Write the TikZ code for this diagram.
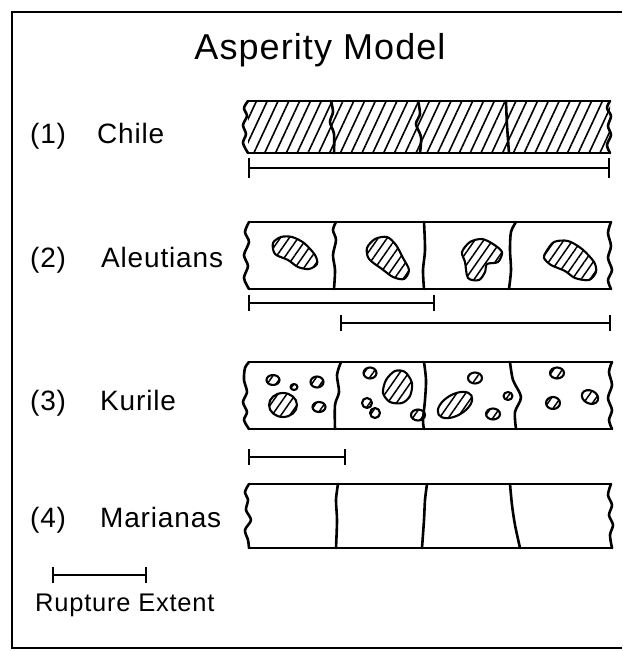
\documentclass[tikz,border=0pt]{standalone}
\usepackage{fontspec}
\setmainfont[LetterSpace=3]{Liberation Sans}
\usetikzlibrary{patterns.meta}
\begin{document}
\begin{tikzpicture}[x=1pt,y=-1pt,
  frame/.style={line width=2pt},
  outline/.style={line width=2.6pt, line join=round, line cap=round},
  bar/.style={line width=2pt},
  hatchbig/.style={pattern={Lines[angle=65,distance=9.8pt,line width=1.6pt]}},
  hatchsm/.style={pattern={Lines[angle=55,distance=7.3pt,line width=1.5pt]}},
  blob/.style={draw, line width=2.1pt, line join=round, hatchsm},
  lbl/.style={font=\fontsize{28}{30}\selectfont, anchor=base west, inner sep=0pt},
  ttl/.style={font=\fontsize{36}{40}\selectfont, anchor=base, inner sep=0pt},
  leg/.style={font=\fontsize{25.5}{28}\selectfont, anchor=base west, inner sep=0pt},
]
\useasboundingbox (0,0) rectangle (622,651);
% frame
\draw[frame] (622,12) -- (12,12) -- (12,648) -- (622,648);
% title
\node[ttl] (title) at (320,59) {Asperity Model};
% labels
\node[lbl] (n1) at (30,143) {(1)};
\node[lbl] (l1) at (97,143) {Chile};
\node[lbl] (n2) at (30,267) {(2)};
\node[lbl] (l2) at (101,267) {Aleutians};
\node[lbl] (n3) at (30,410) {(3)};
\node[lbl] (l3) at (100,410) {Kurile};
\node[lbl] (n4) at (30,527) {(4)};
\node[lbl] (l4) at (100,527) {Marianas};
\node[leg] (leg) at (35,611) {Rupture Extent};

% ---------- (1) Chile ----------
\fill[hatchbig] (248,101) -- (610,101) -- (610,153) -- (248,153) -- cycle;
\draw[outline] (248,101) -- (610,101);
\draw[outline] (248,153) -- (610,153);
\draw[outline] plot[smooth] coordinates {(248,101) (244,108) (247,116) (243,125) (246,134) (243,143) (248,153)};
\draw[outline] plot[smooth] coordinates {(610,101) (607,108) (611,116) (608,126) (611,135) (607,145) (610,153)};
\draw[outline] plot[smooth] coordinates {(331,101) (333,112) (330,122) (334,134) (334,153)};
\draw[outline] plot[smooth] coordinates {(418,101) (420,114) (416,124) (421,137) (420,153)};
\draw[outline] plot[smooth] coordinates {(506,101) (507,125) (509,153)};
\coordinate (c1a) at (249,168); \coordinate (c1b) at (609,168);
\draw[bar] (c1a) -- (c1b);
\draw[bar] ([yshift=-10pt]c1a) -- ([yshift=10pt]c1a);
\draw[bar] ([yshift=-10pt]c1b) -- ([yshift=10pt]c1b);

% ---------- (2) Aleutians ----------
\draw[outline] (249,222) -- (611,222);
\draw[outline] (249,289) -- (611,289);
\draw[outline] plot[smooth] coordinates {(249,222) (245,232) (249,242) (244,255) (248,266) (244,278) (249,289)};
\draw[outline] plot[smooth] coordinates {(611,222) (608,233) (611,246) (608,258) (612,270) (608,280) (611,289)};
\draw[outline] plot[smooth] coordinates {(336,222) (333,230) (336,240) (333,255) (335,270) (334,289)};
\draw[outline] plot[smooth] coordinates {(424,222) (425,250) (423,270) (424,289)};
\draw[outline] plot[smooth] coordinates {(516,222) (511,232) (510,250) (511,270) (509,289)};
\begin{scope}[shift={(294,253)}]
\draw[blob] plot[smooth cycle] coordinates {(-21,-10) (-13,-16) (-2,-16) (10,-10) (21,2) (23,11) (15,16) (4,14) (-6,7) (-19,1)};
\end{scope}
\begin{scope}[shift={(388,258)}]
\draw[blob] plot[smooth cycle] coordinates {(-21,-10) (-13,-19) (-1,-21) (8,-13) (15,0) (21,12) (16,21) (5,19) (-6,11) (-19,1)};
\end{scope}
\begin{scope}[shift={(480,259)}]
\draw[blob] plot[smooth cycle] coordinates {(-10,-17) (2,-20) (13,-15) (22,-7) (18,3) (7,5) (5,13) (-1,21) (-12,19) (-15,3) (-18,-7)};
\end{scope}
\begin{scope}[shift={(570,260)}]
\draw[blob] plot[smooth cycle] coordinates {(-24,-8) (-16,-18) (-2,-19) (12,-11) (24,2) (26,12) (19,20) (5,18) (-5,11) (-19,5) (-26,-2)};
\end{scope}
\coordinate (a1a) at (249,303); \coordinate (a1b) at (434,303);
\coordinate (a2a) at (341,323); \coordinate (a2b) at (610,323);
\draw[bar] (a1a) -- (a1b);
\draw[bar] ([yshift=-8pt]a1a) -- ([yshift=8pt]a1a);
\draw[bar] ([yshift=-8pt]a1b) -- ([yshift=8pt]a1b);
\draw[bar] (a2a) -- (a2b);
\draw[bar] ([yshift=-8pt]a2a) -- ([yshift=8pt]a2a);
\draw[bar] ([yshift=-8pt]a2b) -- ([yshift=8pt]a2b);

% ---------- (3) Kurile ----------
\draw[outline] (249,362) -- (612,362);
\draw[outline] (249,429) -- (612,429);
\draw[outline] plot[smooth] coordinates {(249,362) (245,368) (244,380) (247,392) (243,402) (247,412) (244,420) (249,429)};
\draw[outline] plot[smooth] coordinates {(612,362) (609,372) (612,385) (608,398) (612,410) (609,420) (612,429)};
\draw[outline] plot[smooth] coordinates {(341,362) (337,375) (339,392) (335,405) (335,429)};
\draw[outline] plot[smooth] coordinates {(424,362) (426,380) (425,400) (423,420) (424,429)};
\draw[outline] plot[smooth] coordinates {(510,362) (513,380) (521,397) (515,412) (516,429)};
% panel 1
\draw[blob] (273,380) ellipse [x radius=6.5pt, y radius=5pt];
\draw[blob] (294,387) ellipse [x radius=3.5pt, y radius=3pt];
\draw[blob] (317,382) ellipse [x radius=6.5pt, y radius=5.5pt];
\draw[blob] (283,405) ellipse [x radius=14pt, y radius=12pt];
\draw[blob] (319,407) ellipse [x radius=6.5pt, y radius=5pt];
% panel 2
\draw[blob] (370,373) ellipse [x radius=6.5pt, y radius=5.5pt];
\draw[blob] plot[smooth cycle] coordinates {(395,371) (405,372) (412,383) (410,396) (402,403) (390,402) (383,393) (386,380)};
\draw[blob] (367,403) ellipse [x radius=5pt, y radius=5pt];
\draw[blob] (375,413) ellipse [x radius=5pt, y radius=5pt];
\draw[blob] (418,415) ellipse [x radius=7pt, y radius=5.5pt];
% panel 3
\draw[blob] (475,378) ellipse [x radius=7pt, y radius=5.5pt];
\draw[blob, rotate around={30:(455,405)}] (455,405) ellipse [x radius=19pt, y radius=10.5pt];
\draw[blob] (508,396) ellipse [x radius=4.5pt, y radius=4pt];
\draw[blob] (493,414) ellipse [x radius=7pt, y radius=5.5pt];
% panel 4
\draw[blob] (557,373) ellipse [x radius=7pt, y radius=5.5pt];
\draw[blob] (553,403) ellipse [x radius=7pt, y radius=6pt];
\draw[blob, rotate around={-25:(590,397)}] (590,397) ellipse [x radius=8.5pt, y radius=6.5pt];
\coordinate (k1a) at (249,457); \coordinate (k1b) at (345,457);
\draw[bar] (k1a) -- (k1b);
\draw[bar] ([yshift=-8pt]k1a) -- ([yshift=8pt]k1a);
\draw[bar] ([yshift=-8pt]k1b) -- ([yshift=8pt]k1b);

% ---------- (4) Marianas ----------
\draw[outline] (249,484) -- (611,484);
\draw[outline] (249,548) -- (612,548);
\draw[outline] plot[smooth] coordinates {(249,484) (245,492) (248,500) (246,510) (251,520) (245,530) (248,540) (249,548)};
\draw[outline] plot[smooth] coordinates {(611,484) (608,495) (612,505) (609,515) (613,525) (610,535) (612,548)};
\draw[outline] plot[smooth] coordinates {(338,484) (336,500) (337,520) (336,548)};
\draw[outline] plot[smooth] coordinates {(427,484) (425,500) (424,520) (422,548)};
\draw[outline] plot[smooth] coordinates {(510,484) (512,505) (515,525) (520,548)};

% ---------- legend ----------
\coordinate (ra) at (53,575); \coordinate (rb) at (146,575);
\draw[bar] (ra) -- (rb);
\draw[bar] ([yshift=-8pt]ra) -- ([yshift=8pt]ra);
\draw[bar] ([yshift=-8pt]rb) -- ([yshift=8pt]rb);
\end{tikzpicture}
\end{document}
